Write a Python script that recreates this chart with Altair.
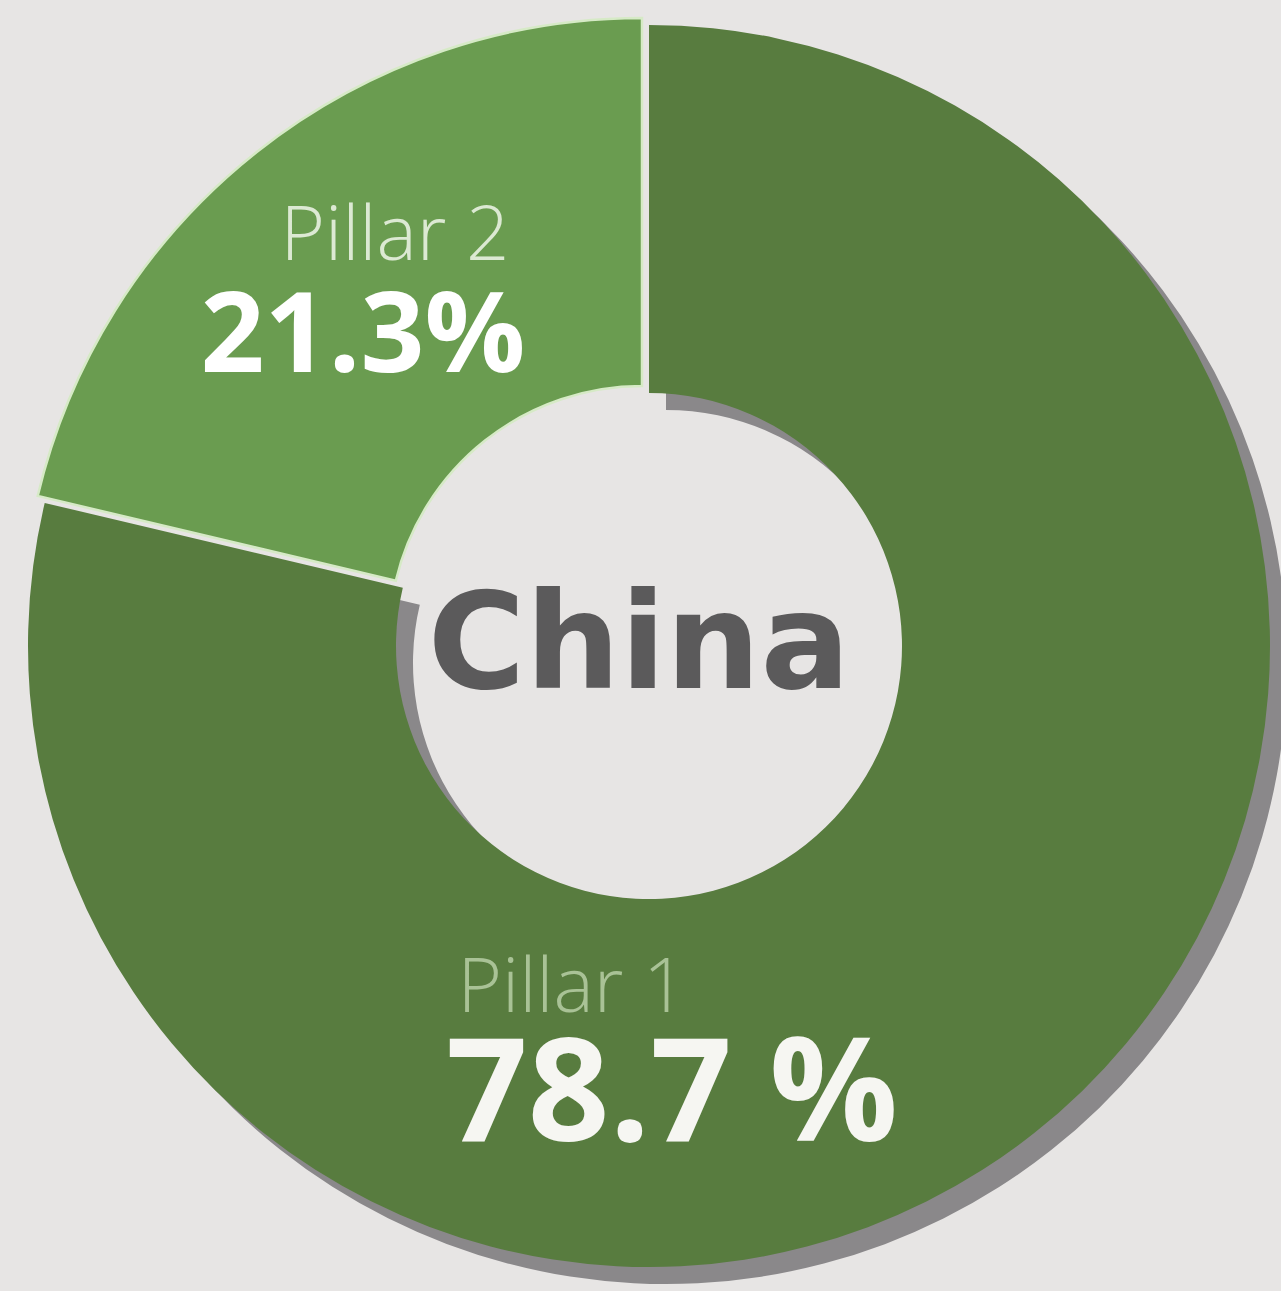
import math
import altair as alt
import pandas as pd

# ---- data ----
categories = ["Pillar 1", "Pillar 2"]
shares = [78.7, 21.3]
orders = [1, 2]
value_labels = ["78.7 %", "21.3%"]
center_label = "China"

df = pd.DataFrame({"category": categories, "share": shares, "order": orders})

W, H = 1281, 1291
CX, CY = 649, 646
R_OUT, R_IN = 621, 253

theta_scale = alt.Scale(domain=[0, 100], range=[0, 2 * math.pi])

base = alt.Chart(df).transform_stack(
    stack="share", groupby=[], as_=["t0", "t1"], sort=[alt.SortField("order")]
)


def slice_layer(cat, color, dx, dy, **kw):
    return base.transform_filter(alt.datum.category == cat).mark_arc(
        radius=R_OUT, radius2=R_IN, color=color, **kw
    ).encode(
        theta=alt.Theta("t0:Q", scale=theta_scale),
        theta2="t1:Q",
        x=alt.value(CX + dx),
        y=alt.value(CY + dy),
    )


shadow = slice_layer("Pillar 1", "#8a888a", 17, 17)
p1 = slice_layer("Pillar 1", "#587c3f", 0, 0)
p2 = slice_layer("Pillar 2", "#6a9c50", -7, -7, stroke="#d6eac6", strokeWidth=2.5)


def text_layer(txt, x, y, size, color, weight, font):
    return alt.Chart(pd.DataFrame({"t": [txt]})).mark_text(
        align="center", baseline="alphabetic", fontSize=size, color=color,
        fontWeight=weight, font=font
    ).encode(text="t:N", x=alt.value(x), y=alt.value(y))


t_p2 = text_layer(categories[1], 395, 260, 76, "#dce9d3", 300, "Open Sans")
t_v2 = text_layer(value_labels[1], 363, 372, 112, "#ffffff", "bold", "Open Sans")
t_p1 = text_layer(categories[0], 572, 1012, 76, "#a9c296", 300, "Open Sans")
t_v1 = text_layer(value_labels[0], 672, 1141, 143, "#f6f6f2", "bold", "Open Sans")
t_c = text_layer(center_label, 639, 688, 133, "#5b5a5b", "bold", "DejaVu Sans")

chart = alt.layer(shadow, p1, p2, t_p2, t_v2, t_p1, t_v1, t_c).properties(
    width=W, height=H, autosize="none", padding=0, background="#e7e5e4"
).configure_view(stroke=None)

chart.save("out.html", embed_options={"renderer": "svg", "actions": False})
